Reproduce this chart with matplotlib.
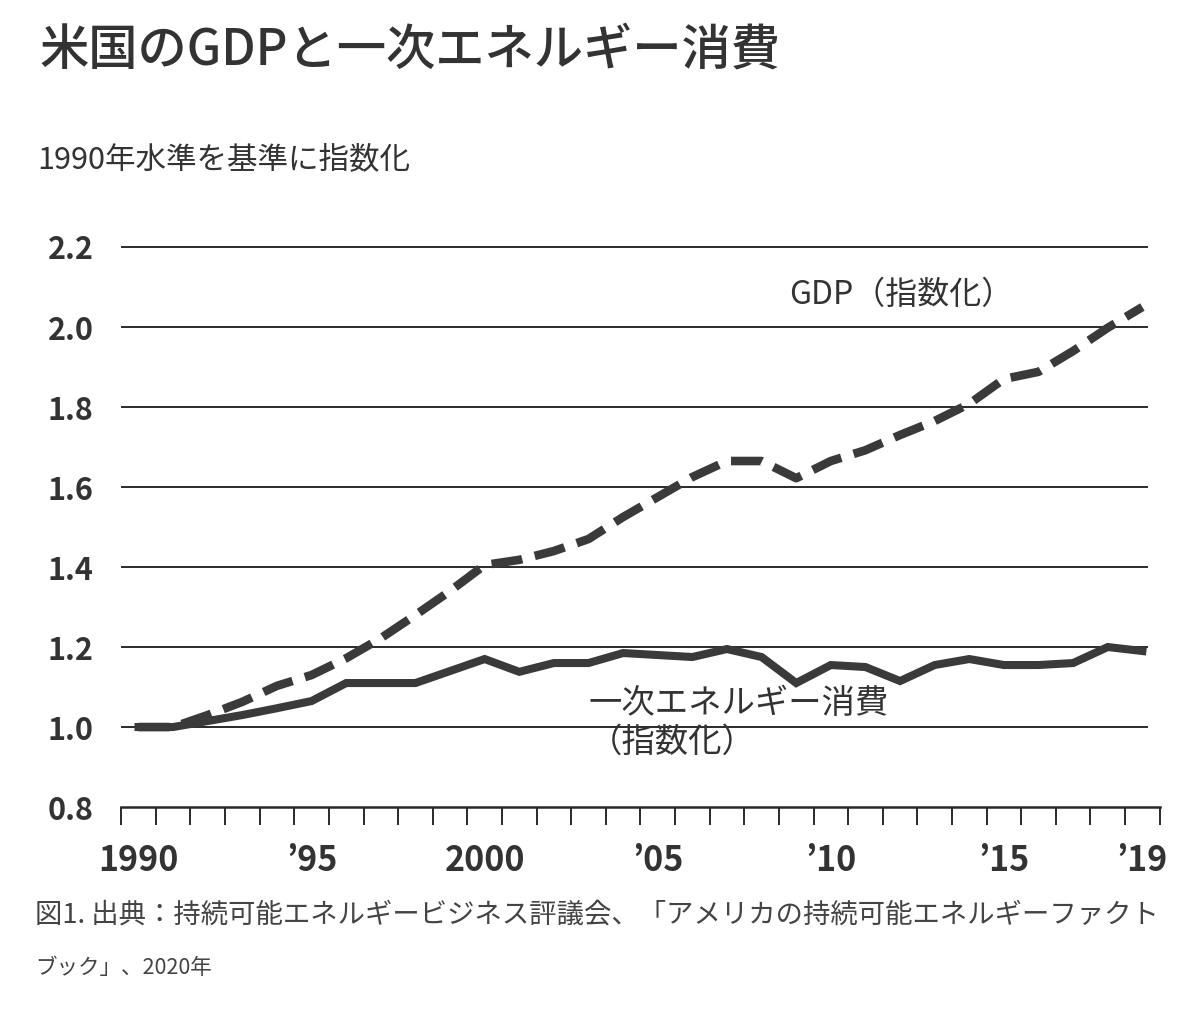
import numpy as np
import matplotlib
matplotlib.use("Agg")
import matplotlib.pyplot as plt
from matplotlib.ticker import FixedLocator

plt.rcParams['font.family'] = ['Noto Sans CJK JP', 'DejaVu Sans']

# data (1990 = 1.0)
years = list(range(1990, 2020))
gdp = [1.00, 1.00, 1.03, 1.063, 1.103, 1.13, 1.172, 1.222, 1.28, 1.34,
       1.405, 1.418, 1.44, 1.47, 1.525, 1.575, 1.625, 1.665, 1.665, 1.622,
       1.665, 1.692, 1.73, 1.765, 1.808, 1.87, 1.888, 1.94, 1.998, 2.05]
energy = [1.00, 1.00, 1.015, 1.03, 1.047, 1.065, 1.11, 1.11, 1.11, 1.14,
          1.17, 1.138, 1.16, 1.16, 1.185, 1.18, 1.175, 1.195, 1.175, 1.11,
          1.155, 1.15, 1.115, 1.155, 1.17, 1.155, 1.155, 1.16, 1.20, 1.19]
yticks = [0.8, 1.0, 1.2, 1.4, 1.6, 1.8, 2.0, 2.2]
xlabel_years = [1990, 1995, 2000, 2005, 2010, 2015, 2019]
xlabel_text = ['1990', '\u201995', '2000', '\u201905', '\u201910', '\u201915', '\u201919']

ink = '#3a3a3a'
txt = '#333333'

fig = plt.figure(figsize=(12, 10.29), dpi=100)
ax = fig.add_axes([0.101, 0.2157, 0.8654, 0.5637])
ax.set_xlim(1989.5, 2019.5)
ax.set_ylim(0.8, 2.25)

for v in yticks[1:]:
    ax.axhline(v, xmin=0, xmax=0.988, color='#2a2a2a', lw=1.4, zorder=1)

ax.plot(years, energy, color=ink, lw=5.8, solid_joinstyle='miter', zorder=3)
ax.plot(years, gdp, color=ink, lw=6.2, dashes=(3.6, 1.5), solid_joinstyle='miter',
        dash_capstyle='butt', zorder=3)

for s in ['top', 'right', 'left']:
    ax.spines[s].set_visible(False)
ax.spines['bottom'].set_color('#2a2a2a')
ax.spines['bottom'].set_linewidth(1.8)

ax.set_yticks(yticks)
ax.set_yticklabels([f'{v:.1f}' for v in yticks], fontsize=22, fontweight='bold', color=txt)
ax.tick_params(axis='y', length=0, pad=20)

ax.xaxis.set_major_locator(FixedLocator(xlabel_years))
ax.set_xticklabels(xlabel_text, fontsize=24.5, fontweight='bold', color=txt)
ax.xaxis.set_minor_locator(FixedLocator(np.arange(1989.5, 2020.0, 1.0)))
ax.tick_params(axis='x', which='major', length=0, pad=26)
ax.tick_params(axis='x', which='minor', length=13, width=1.4, color='#2a2a2a', direction='out')

ax.text(2008.8, 2.08, 'GDP（指数化）', fontsize=23, color=txt, va='center', ha='left')
ax.text(2003.0, 1.06, '一次エネルギー消費', fontsize=24, color=txt, va='center', ha='left')
ax.text(2003.0, 0.963, '（指数化）', fontsize=24, color=txt, va='center', ha='left')

fig.text(0.033, 0.951, '米国のGDPと一次エネルギー消費', fontsize=35.5, fontweight='medium',
         color=txt, va='center', ha='left')
fig.text(0.031, 0.8445, '1990年水準を基準に指数化', fontsize=22, color=txt, va='center', ha='left')
fig.text(0.029, 0.111, '図1. 出典：持続可能エネルギービジネス評議会、「アメリカの持続可能エネルギーファクト',
         fontsize=19.7, color='#444444', va='center', ha='left')
fig.text(0.029, 0.0593, 'ブック」、2020年', fontsize=15.5, color='#444444', va='center', ha='left')

fig.savefig('out.png', dpi=100, facecolor='white')
